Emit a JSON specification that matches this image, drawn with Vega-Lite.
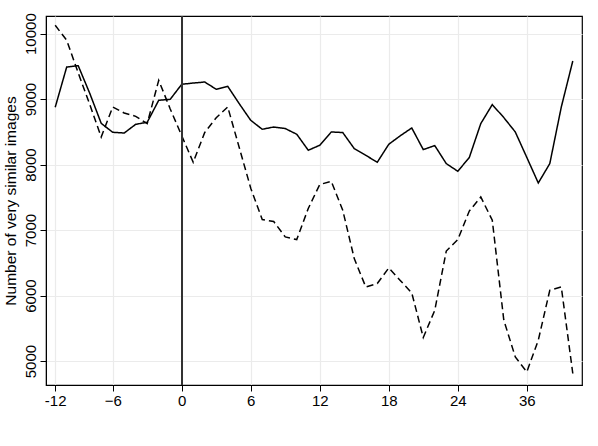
{
  "$schema": "https://vega.github.io/schema/vega-lite/v6.json",
  "autosize": {"type": "none"},
  "width": 536,
  "height": 369,
  "padding": {"left": 46, "top": 16, "right": 16, "bottom": 61},
  "background": "white",
  "config": {
    "font": "Liberation Sans",
    "view": {"stroke": "black", "strokeWidth": 1.2},
    "axis": {
      "domainColor": "black",
      "tickColor": "black",
      "gridColor": "#ebebeb",
      "gridWidth": 1.2,
      "labelColor": "black",
      "titleColor": "black",
      "labelFont": "Liberation Sans",
      "titleFont": "Liberation Sans",
      "labelFontSize": 15,
      "tickSize": 6
    }
  },
  "data": {
    "values": [
      {"t": -11, "s": "a", "v": 8875}, {"t": -11, "s": "b", "v": 10127},
      {"t": -10, "s": "a", "v": 9490}, {"t": -10, "s": "b", "v": 9898},
      {"t": -9, "s": "a", "v": 9510}, {"t": -9, "s": "b", "v": 9400},
      {"t": -8, "s": "a", "v": 9090}, {"t": -8, "s": "b", "v": 8920},
      {"t": -7, "s": "a", "v": 8630}, {"t": -7, "s": "b", "v": 8421},
      {"t": -6, "s": "a", "v": 8493}, {"t": -6, "s": "b", "v": 8879},
      {"t": -5, "s": "a", "v": 8482}, {"t": -5, "s": "b", "v": 8788},
      {"t": -4, "s": "a", "v": 8615}, {"t": -4, "s": "b", "v": 8737},
      {"t": -3, "s": "a", "v": 8646}, {"t": -3, "s": "b", "v": 8626},
      {"t": -2, "s": "a", "v": 8982}, {"t": -2, "s": "b", "v": 9287},
      {"t": -1, "s": "a", "v": 8997}, {"t": -1, "s": "b", "v": 8850},
      {"t": 0, "s": "a", "v": 9226}, {"t": 0, "s": "b", "v": 8440},
      {"t": 1, "s": "a", "v": 9245}, {"t": 1, "s": "b", "v": 8035},
      {"t": 2, "s": "a", "v": 9261}, {"t": 2, "s": "b", "v": 8490},
      {"t": 3, "s": "a", "v": 9150}, {"t": 3, "s": "b", "v": 8715},
      {"t": 4, "s": "a", "v": 9195}, {"t": 4, "s": "b", "v": 8880},
      {"t": 5, "s": "a", "v": 8930}, {"t": 5, "s": "b", "v": 8260},
      {"t": 6, "s": "a", "v": 8676}, {"t": 6, "s": "b", "v": 7640},
      {"t": 7, "s": "a", "v": 8539}, {"t": 7, "s": "b", "v": 7160},
      {"t": 8, "s": "a", "v": 8574}, {"t": 8, "s": "b", "v": 7130},
      {"t": 9, "s": "a", "v": 8550}, {"t": 9, "s": "b", "v": 6895},
      {"t": 10, "s": "a", "v": 8463}, {"t": 10, "s": "b", "v": 6855},
      {"t": 11, "s": "a", "v": 8219}, {"t": 11, "s": "b", "v": 7330},
      {"t": 12, "s": "a", "v": 8295}, {"t": 12, "s": "b", "v": 7695},
      {"t": 13, "s": "a", "v": 8498}, {"t": 13, "s": "b", "v": 7745},
      {"t": 14, "s": "a", "v": 8489}, {"t": 14, "s": "b", "v": 7302},
      {"t": 15, "s": "a", "v": 8244}, {"t": 15, "s": "b", "v": 6565},
      {"t": 16, "s": "a", "v": 8142}, {"t": 16, "s": "b", "v": 6131},
      {"t": 17, "s": "a", "v": 8035}, {"t": 17, "s": "b", "v": 6183},
      {"t": 18, "s": "a", "v": 8310}, {"t": 18, "s": "b", "v": 6421},
      {"t": 19, "s": "a", "v": 8440}, {"t": 19, "s": "b", "v": 6230},
      {"t": 20, "s": "a", "v": 8559}, {"t": 20, "s": "b", "v": 6040},
      {"t": 21, "s": "a", "v": 8229}, {"t": 21, "s": "b", "v": 5359},
      {"t": 22, "s": "a", "v": 8290}, {"t": 22, "s": "b", "v": 5775},
      {"t": 23, "s": "a", "v": 8015}, {"t": 23, "s": "b", "v": 6680},
      {"t": 24, "s": "a", "v": 7898}, {"t": 24, "s": "b", "v": 6855},
      {"t": 25, "s": "a", "v": 8107}, {"t": 25, "s": "b", "v": 7290},
      {"t": 26, "s": "a", "v": 8626}, {"t": 26, "s": "b", "v": 7505},
      {"t": 27, "s": "a", "v": 8916}, {"t": 27, "s": "b", "v": 7150},
      {"t": 28, "s": "a", "v": 8718}, {"t": 28, "s": "b", "v": 5626},
      {"t": 29, "s": "a", "v": 8498}, {"t": 29, "s": "b", "v": 5063},
      {"t": 30, "s": "a", "v": 8110}, {"t": 30, "s": "b", "v": 4834},
      {"t": 31, "s": "a", "v": 7719}, {"t": 31, "s": "b", "v": 5318},
      {"t": 32, "s": "a", "v": 8015}, {"t": 32, "s": "b", "v": 6081},
      {"t": 33, "s": "a", "v": 8879}, {"t": 33, "s": "b", "v": 6131},
      {"t": 34, "s": "a", "v": 9582}, {"t": 34, "s": "b", "v": 4810}
    ]
  },
  "layer": [
    {
      "mark": {"type": "line", "color": "black", "strokeWidth": 1.5},
      "encoding": {
        "x": {
          "field": "t", "type": "quantitative",
          "scale": {"domain": [-11.8, 34.8], "nice": false, "zero": false},
          "axis": {
            "title": null,
            "values": [-11, -6, 0, 6, 12, 18, 24, 30],
            "labelExpr": "datum.value == -11 ? '-12' : datum.value == 30 ? '36' : datum.label",
            "labelPadding": 2
          }
        },
        "y": {
          "field": "v", "type": "quantitative",
          "scale": {"domain": [4634, 10269], "nice": false, "zero": false},
          "axis": {
            "title": "Number of very similar images",
            "titleFontSize": 15.5,
            "titleFontWeight": "normal",
            "titlePadding": 5,
            "values": [5000, 6000, 7000, 8000, 9000, 10000],
            "format": "d",
            "labelAngle": -90,
            "labelAlign": "center",
            "labelBaseline": "bottom",
            "labelPadding": 2
          }
        },
        "detail": {"field": "s"},
        "strokeDash": {
          "field": "s", "type": "nominal",
          "scale": {"domain": ["a", "b"], "range": [[1, 0], [7, 4]]},
          "legend": null
        }
      }
    },
    {
      "mark": {"type": "rule", "color": "#333333", "strokeWidth": 1.3},
      "encoding": {"x": {"datum": 0, "type": "quantitative"}}
    }
  ]
}
